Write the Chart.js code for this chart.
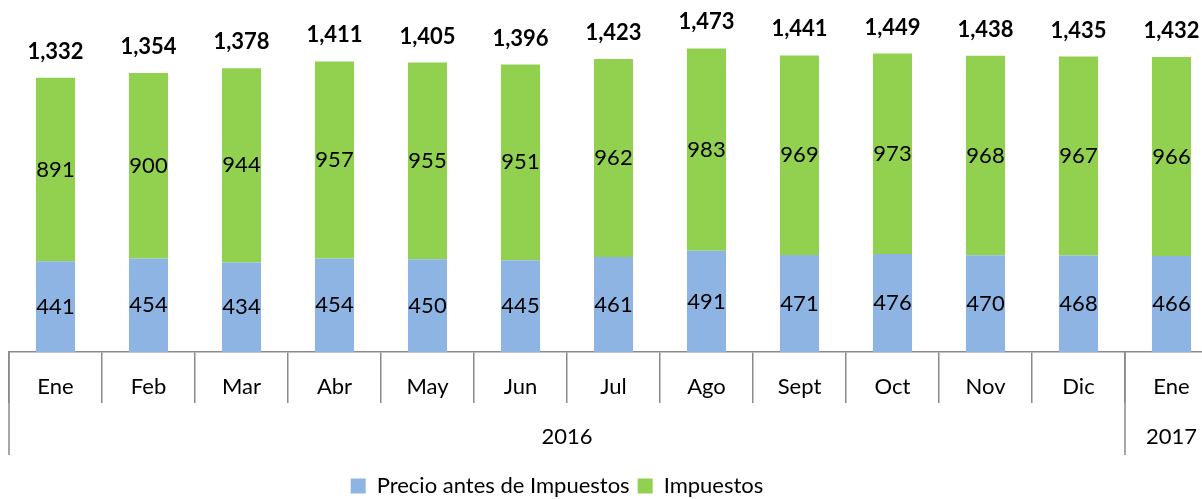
<!DOCTYPE html>
<html>
<head>
<meta charset="utf-8">
<script src="https://cdn.jsdelivr.net/npm/chart.js@4.4.1/dist/chart.umd.min.js"></script>
<style>
  html, body { margin: 0; padding: 0; background: #fff; overflow: hidden; }
  #wrap { width: 1218px; height: 499px; }
</style>
</head>
<body>
<div id="wrap"><canvas id="grafico" width="1218" height="499"></canvas></div>
<script>
// datos
const meses = ["Ene","Feb","Mar","Abr","May","Jun","Jul","Ago","Sept","Oct","Nov","Dic","Ene"];
const anios = [{ label: "2016", desde: 0, hasta: 11 }, { label: "2017", desde: 12, hasta: 12 }];
const precioAntes = [441,454,434,454,450,445,461,491,471,476,470,468,466];
const impuestos = [891,900,944,957,955,951,962,983,969,973,968,967,966];
const totales = [1332,1354,1378,1411,1405,1396,1423,1473,1441,1449,1438,1435,1432];

const FUENTE = "Lato, 'Open Sans', sans-serif";
const GRIS = "#8a8a8a";

// etiquetas dentro de las barras y totales encima
const etiquetas = {
    id: "etiquetas",
    afterDatasetsDraw(chart) {
        const ctx = chart.ctx;
        ctx.save();
        ctx.textAlign = "center";
        ctx.textBaseline = "middle";
        ctx.fillStyle = "#000";
        ctx.font = "22px " + FUENTE;
        chart.data.datasets.forEach((ds, i) => {
            chart.getDatasetMeta(i).data.forEach((bar, j) => {
                ctx.fillText(ds.data[j], bar.x, (bar.y + bar.base) / 2);
            });
        });
        ctx.font = "bold 22px " + FUENTE;
        const top = chart.getDatasetMeta(1).data;
        top.forEach((bar, j) => {
            ctx.fillText(totales[j].toLocaleString("en-US"), bar.x, bar.y - 26);
        });
        ctx.restore();
    }
};

// eje de dos niveles (años)
const ejeAnios = {
    id: "ejeAnios",
    afterDraw(chart) {
        const x = chart.scales.x;
        const ctx = chart.ctx;
        const paso = x.getPixelForValue(1) - x.getPixelForValue(0);
        const y0 = x.top;
        ctx.save();
        ctx.strokeStyle = GRIS;
        ctx.lineWidth = 1.5;
        ctx.fillStyle = "#000";
        ctx.font = "22px " + FUENTE;
        ctx.textAlign = "center";
        ctx.textBaseline = "middle";
        anios.forEach(a => {
            const izq = x.getPixelForValue(a.desde) - paso / 2;
            const der = x.getPixelForValue(a.hasta) + paso / 2;
            ctx.beginPath();
            ctx.moveTo(izq, y0);
            ctx.lineTo(izq, y0 + 103);
            ctx.stroke();
            ctx.fillText(a.label, (izq + der) / 2, y0 + 85);
        });
        ctx.restore();
    }
};

// mover la leyenda como en el original
const posLeyenda = {
    id: "posLeyenda",
    afterLayout(chart) {
        const lg = chart.legend;
        const dx = 557 - (lg.left + lg.right) / 2;
        lg.left += dx;
        lg.right += dx;
        lg.top += 8;
        lg.bottom += 8;
    }
};

new Chart(document.getElementById("grafico"), {
    type: "bar",
    data: {
        labels: meses,
        datasets: [
            {
                label: "Precio antes de Impuestos",
                data: precioAntes,
                backgroundColor: "#8eb4e3",
                barPercentage: 0.42,
                categoryPercentage: 1
            },
            {
                label: "Impuestos",
                data: impuestos,
                backgroundColor: "#92d050",
                barPercentage: 0.42,
                categoryPercentage: 1
            }
        ]
    },
    options: {
        responsive: false,
        animation: false,
        devicePixelRatio: 1,
        layout: { padding: { left: 9, right: 0, top: 0, bottom: 0 } },
        plugins: {
            legend: {
                position: "bottom",
                labels: {
                    boxWidth: 15,
                    boxHeight: 15,
                    padding: 8,
                    color: "#000",
                    font: { family: FUENTE, size: 22 }
                }
            },
            tooltip: { enabled: false }
        },
        scales: {
            x: {
                stacked: true,
                offset: true,
                grid: {
                    offset: true,
                    drawOnChartArea: false,
                    drawTicks: true,
                    tickLength: 51,
                    color: GRIS,
                    lineWidth: 1.5
                },
                border: { display: true, color: GRIS, width: 1.5 },
                ticks: {
                    color: "#000",
                    padding: -29,
                    maxRotation: 0,
                    autoSkip: false,
                    font: { family: FUENTE, size: 22 }
                },
                afterFit(s) {
                    const lh = s.chart.legend ? s.chart.legend.height : 0;
                    s.height = 499 - 352 - lh;
                }
            },
            y: {
                stacked: true,
                display: false,
                min: 0,
                max: 1709
            }
        }
    },
    plugins: [etiquetas, ejeAnios, posLeyenda]
});
</script>
</body>
</html>
